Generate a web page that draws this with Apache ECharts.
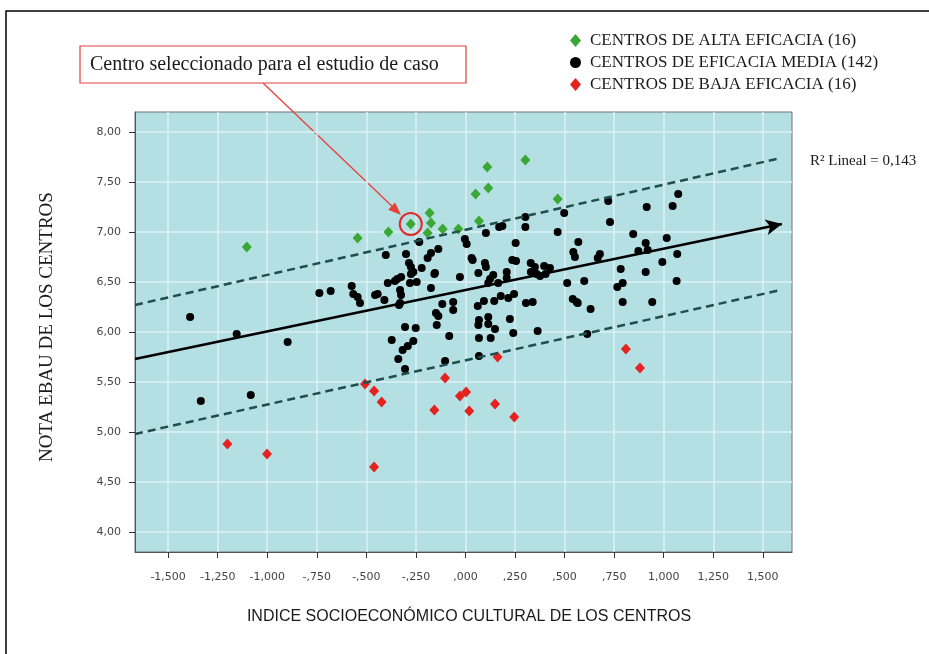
<!DOCTYPE html>
<html>
<head>
    <meta charset="utf-8">
    <title>Nota EBAU / ISEC</title>
    <script src="https://cdn.jsdelivr.net/npm/echarts@6/dist/echarts.min.js"></script>
    <style>
        body { margin: 0; background: #fff; }
        #main { width: 929px; height: 654px; }
    </style>
</head>
<body>
<div id="main"></div>
<script type="text/javascript">
    // tick labels
    var xTicks = [-1.5, -1.25, -1, -0.75, -0.5, -0.25, 0, 0.25, 0.5, 0.75, 1, 1.25, 1.5];
    var yTicks = [4, 4.5, 5, 5.5, 6, 6.5, 7, 7.5, 8];

    // series names
    var altaName = 'CENTROS DE ALTA EFICACIA (16)';
    var mediaName = 'CENTROS DE EFICACIA MEDIA (142)';
    var bajaName = 'CENTROS DE BAJA EFICACIA (16)';

    // [indice socioeconomico, nota ebau]
    var alta = [
        [-1.103, 6.85], [-0.544, 6.94], [-0.389, 7.00], [-0.276, 7.08], [-0.181, 7.19],
        [-0.174, 7.09], [-0.191, 6.99], [-0.115, 7.03], [-0.036, 7.03], [0.051, 7.38],
        [0.068, 7.11], [0.110, 7.65], [0.115, 7.44], [0.302, 7.72], [0.465, 7.33]
    ];
    var baja = [
        [-0.507, 5.48], [-0.461, 5.41], [-0.423, 5.30], [-0.103, 5.54], [-0.157, 5.22],
        [-0.028, 5.36], [0.003, 5.40], [0.019, 5.21], [0.149, 5.28], [0.162, 5.75],
        [0.246, 5.15], [0.809, 5.83], [0.880, 5.64], [-1.201, 4.88], [-1.001, 4.78],
        [-0.461, 4.65]
    ];
    var media = [
        [-1.389, 6.15], [-1.154, 5.98], [-0.897, 5.90], [-1.335, 5.31], [-1.083, 5.37],
        [-0.737, 6.39], [-0.680, 6.41], [-0.574, 6.46], [-0.566, 6.38],
        [-0.402, 6.77], [-0.300, 6.78], [-0.233, 6.90], [-0.174, 6.79], [-0.137, 6.83],
        [-0.191, 6.74], [-0.285, 6.69], [-0.275, 6.65], [-0.263, 6.60], [-0.221, 6.64],
        [-0.154, 6.59], [-0.003, 6.93], [0.006, 6.88], [0.031, 6.74], [0.036, 6.72],
        [0.103, 6.99], [0.098, 6.69], [0.103, 6.65], [0.065, 6.59], [0.170, 7.05],
        [0.186, 7.06], [0.253, 6.89], [0.236, 6.72], [0.255, 6.71], [0.208, 6.60],
        [0.302, 7.15], [0.302, 7.05], [0.329, 6.69], [0.350, 6.65], [0.397, 6.66],
        [0.426, 6.64], [0.465, 7.00], [0.498, 7.19], [0.544, 6.80],
        [0.720, 7.31], [1.073, 7.38], [1.045, 7.26], [0.914, 7.25], [0.729, 7.10],
        [0.846, 6.98], [0.909, 6.89], [1.015, 6.94], [0.872, 6.81], [0.919, 6.82],
        [1.068, 6.78], [0.993, 6.70], [0.569, 6.90], [0.552, 6.75], [0.678, 6.78],
        [0.667, 6.74], [0.783, 6.63], [0.909, 6.60],
        [0.599, 6.51], [0.793, 6.49], [0.766, 6.45], [1.065, 6.51], [0.561, 6.30],
        [0.566, 6.29], [0.631, 6.23], [0.793, 6.30], [0.942, 6.30], [0.614, 5.98],
        [-0.544, 6.35], [-0.532, 6.29], [-0.392, 6.49], [-0.356, 6.51], [-0.344, 6.53],
        [-0.325, 6.55], [-0.275, 6.58], [-0.280, 6.49], [-0.246, 6.50], [-0.157, 6.58],
        [-0.174, 6.44], [-0.330, 6.42], [-0.325, 6.37], [-0.330, 6.29], [-0.335, 6.27],
        [-0.456, 6.37], [-0.443, 6.38], [-0.409, 6.32], [-0.028, 6.55],
        [0.140, 6.57], [0.124, 6.53], [0.115, 6.49], [0.165, 6.49], [0.208, 6.54],
        [0.330, 6.60], [0.359, 6.58], [0.376, 6.56], [0.404, 6.58], [0.513, 6.49],
        [0.541, 6.33], [-0.117, 6.28], [-0.062, 6.30], [-0.062, 6.22], [0.062, 6.26],
        [0.093, 6.31], [0.145, 6.31], [0.178, 6.36], [0.216, 6.34], [0.245, 6.38],
        [0.305, 6.29], [0.339, 6.30], [-0.149, 6.19], [-0.137, 6.16], [-0.145, 6.07],
        [0.068, 6.12], [0.065, 6.07], [0.115, 6.15], [0.115, 6.08], [0.149, 6.03],
        [0.224, 6.13], [0.241, 5.99], [0.364, 6.01], [-0.305, 6.05], [-0.251, 6.04],
        [-0.372, 5.92], [-0.263, 5.91], [-0.291, 5.86], [-0.317, 5.82], [-0.339, 5.73],
        [-0.305, 5.63], [-0.082, 5.96], [0.068, 5.94], [0.127, 5.94], [-0.103, 5.71],
        [0.068, 5.76]
    ];
    var seleccionado = [[-0.276, 7.08]];

    // fitted line and the two dashed bands
    var ajuste = [[-1.667, 5.73], [1.596, 7.08]];
    var bandaSup = [[-1.667, 6.27], [1.591, 7.74]];
    var bandaInf = [[-1.667, 4.98], [1.591, 6.42]];
    var r2Label = 'R² Lineal = 0,143';

    function fmtX(v) {
        var s = Math.abs(v).toFixed(3).replace('.', ',');
        if (Math.abs(v) < 1) s = s.replace(/^0/, '');
        return (v < 0 ? '-' : '') + s;
    }
    function fmtY(v) {
        return v.toFixed(2).replace('.', ',');
    }

    // red arrow from the note box to the circled centre
    function arrowHead(x1, y1, x2, y2, len, half) {
        var dx = x2 - x1, dy = y2 - y1, d = Math.sqrt(dx * dx + dy * dy);
        var ux = dx / d, uy = dy / d;
        var bx = x2 - ux * len, by = y2 - uy * len;
        return [[x2, y2], [bx - uy * half, by + ux * half], [bx + uy * half, by - ux * half]];
    }

    var serif = 'Liberation Serif';
    var myChart = echarts.init(document.getElementById('main'));

    var option = {
        backgroundColor: '#fff',
        animation: false,
        grid: {
            left: 135, right: 137, top: 112, bottom: 102,
            show: true,
            backgroundColor: '#b4dfe3',
            borderColor: '#707070',
            borderWidth: 1
        },
        legend: {
            orient: 'vertical',
            left: 565,
            top: 27,
            itemWidth: 11,
            itemHeight: 13,
            itemGap: 5,
            textStyle: { fontFamily: serif, fontSize: 17, color: '#1a1a1a', padding: [0, 0, 0, 4] },
            data: [
                { name: altaName, icon: 'diamond' },
                { name: mediaName, icon: 'circle' },
                { name: bajaName, icon: 'diamond' }
            ]
        },
        xAxis: {
            type: 'value',
            min: -1.667,
            max: 1.647,
            axisLine: { show: true, onZero: false, lineStyle: { color: '#555', width: 1 } },
            axisTick: { show: true, length: 6, customValues: xTicks, lineStyle: { color: '#333' } },
            axisLabel: {
                customValues: xTicks, formatter: fmtX, margin: 20,
                fontFamily: 'DejaVu Sans', fontSize: 11, color: '#444'
            },
            splitLine: { show: true, lineStyle: { color: '#dcf1f3', width: 1.5 } }
        },
        yAxis: {
            type: 'value',
            min: 3.8,
            max: 8.2,
            axisLine: { show: true, onZero: false, lineStyle: { color: '#555', width: 1 } },
            axisTick: { show: true, length: 6, customValues: yTicks, lineStyle: { color: '#333' } },
            axisLabel: {
                customValues: yTicks, formatter: fmtY, margin: 14,
                fontFamily: 'DejaVu Sans', fontSize: 11, color: '#444'
            },
            splitLine: { show: true, lineStyle: { color: '#dcf1f3', width: 1.5 } }
        },
        series: [
            {
                type: 'line', data: bandaSup, symbol: 'none', silent: true,
                lineStyle: { color: '#1f4e4e', width: 2.5, type: [8, 5] }
            },
            {
                type: 'line', data: bandaInf, symbol: 'none', silent: true,
                lineStyle: { color: '#1f4e4e', width: 2.5, type: [8, 5] }
            },
            {
                type: 'line', data: [], silent: true,
                markLine: {
                    silent: true,
                    symbol: ['none', 'arrow'],
                    symbolSize: [12, 16],
                    label: { show: false },
                    lineStyle: { color: '#000', width: 2.5, type: 'solid' },
                    data: [[{ coord: ajuste[0] }, { coord: ajuste[1] }]]
                }
            },
            {
                name: mediaName, type: 'scatter', data: media,
                symbol: 'circle', symbolSize: 8,
                itemStyle: { color: '#000', opacity: 1 }
            },
            {
                name: altaName, type: 'scatter', data: alta,
                symbol: 'diamond', symbolSize: [10, 11],
                itemStyle: { color: '#3aa835', opacity: 1 }
            },
            {
                name: bajaName, type: 'scatter', data: baja,
                symbol: 'diamond', symbolSize: [10, 11],
                itemStyle: { color: '#e42320', opacity: 1 }
            },
            {
                type: 'scatter', data: seleccionado, silent: true,
                symbol: 'circle', symbolSize: 22,
                itemStyle: { color: 'rgba(0,0,0,0)', borderColor: '#e02a2a', borderWidth: 2, opacity: 1 }
            }
        ],
        graphic: [
            {
                type: 'rect', silent: true,
                shape: { x: 6, y: 11, width: 1000, height: 1000 },
                style: { fill: 'none', stroke: '#000', lineWidth: 1.5 }
            },
            {
                type: 'rect', silent: true,
                shape: { x: 80, y: 46, width: 386, height: 37 },
                style: { fill: '#fff', stroke: '#e04040', lineWidth: 1.2 }
            },
            {
                type: 'text', silent: true, x: 90, y: 65,
                style: {
                    text: 'Centro seleccionado para el estudio de caso',
                    fontFamily: serif, fontSize: 20, fill: '#1a1a1a',
                    verticalAlign: 'middle'
                }
            },
            {
                type: 'line', silent: true,
                shape: { x1: 263, y1: 83, x2: 396, y2: 210 },
                style: { stroke: '#e8413c', lineWidth: 1.3 }
            },
            {
                type: 'polygon', silent: true,
                shape: { points: arrowHead(263, 83, 401, 215, 13, 5) },
                style: { fill: '#e8413c' }
            },
            {
                type: 'text', silent: true, x: 810, y: 161,
                style: {
                    text: r2Label, fontFamily: serif, fontSize: 15, fill: '#1a1a1a',
                    verticalAlign: 'middle'
                }
            },
            {
                type: 'text', silent: true, x: 47, y: 327, rotation: Math.PI / 2,
                style: {
                    text: 'NOTA EBAU DE LOS CENTROS',
                    fontFamily: serif, fontSize: 19, fill: '#1a1a1a',
                    align: 'center', verticalAlign: 'middle'
                }
            },
            {
                type: 'text', silent: true, x: 469, y: 617,
                style: {
                    text: 'INDICE SOCIOECONÓMICO CULTURAL DE LOS CENTROS',
                    fontFamily: 'Liberation Sans', fontSize: 16, fill: '#1a1a1a',
                    align: 'center', verticalAlign: 'middle'
                }
            }
        ]
    };

    myChart.setOption(option);
</script>
</body>
</html>
